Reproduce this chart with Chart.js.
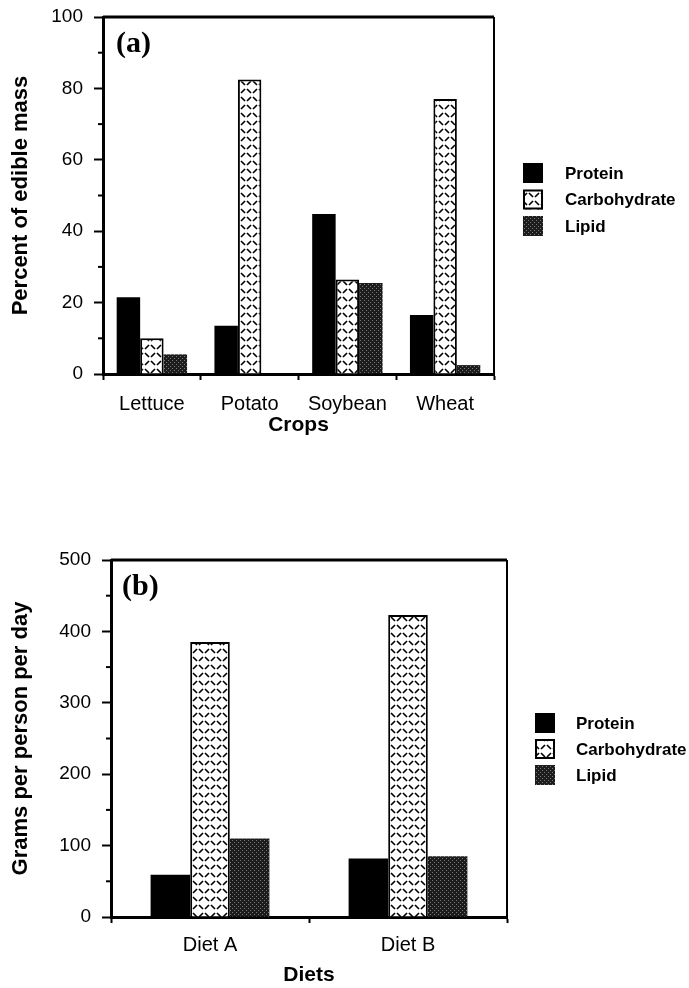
<!DOCTYPE html>
<html>
<head>
<meta charset="utf-8">
<script src="https://cdn.jsdelivr.net/npm/chart.js@4.4.1/dist/chart.umd.min.js"></script>
<style>
	body { margin: 0; background: #fff; width: 689px; height: 988px; position: relative; overflow: hidden; }
	canvas { position: absolute; left: 0; }
	#cropsChart { top: 0; }
	#dietsChart { top: 480px; }
</style>
</head>
<body>
<canvas id="cropsChart" width="689" height="450"></canvas>
<canvas id="dietsChart" width="689" height="508"></canvas>
<script>
const seriesNames = ['Protein', 'Carbohydrate', 'Lipid'];

// (a) percent of edible mass
const crops = ['Lettuce', 'Potato', 'Soybean', 'Wheat'];
const cropProtein = [21.5, 13.5, 44.8, 16.5];
const cropCarbohydrate = [10, 82.5, 26.5, 77];
const cropLipid = [5.5, 0, 25.5, 2.5];
const cropTicks = [0, 20, 40, 60, 80, 100];
const cropMinorTicks = [10, 30, 50, 70, 90];

// (b) grams per person per day
const diets = ['Diet A', 'Diet B'];
const dietProtein = [59, 82];
const dietCarbohydrate = [385, 423];
const dietLipid = [110, 85];
const dietTicks = [0, 100, 200, 300, 400, 500];
const dietMinorTicks = [50, 150, 250, 350, 450];

const SANS = '"Liberation Sans", Arial, Helvetica, sans-serif';
const SERIF = '"Liberation Serif", "Times New Roman", serif';

const makeCarbPattern = () => {
	let c = document.createElement('canvas');
	c.width = 12;
	c.height = 16;
	let p = c.getContext('2d');
	p.fillStyle = '#fff';
	p.fillRect(0, 0, 12, 16);
	p.strokeStyle = '#000';
	p.lineWidth = 1.7;
	p.beginPath();
	p.moveTo(1, 1); p.lineTo(5, 5);
	p.moveTo(7, 5); p.lineTo(11, 1);
	p.moveTo(1, 13); p.lineTo(5, 9);
	p.moveTo(7, 9); p.lineTo(11, 13);
	p.stroke();
	return p.createPattern(c, 'repeat');
};

const makeLipidPattern = () => {
	let c = document.createElement('canvas');
	c.width = 4;
	c.height = 4;
	let p = c.getContext('2d');
	p.fillStyle = '#1c1c1c';
	p.fillRect(0, 0, 4, 4);
	p.fillStyle = '#7a7a7a';
	p.fillRect(0, 0, 1, 1);
	p.fillRect(2, 2, 1, 1);
	return p.createPattern(c, 'repeat');
};

const carbPattern = makeCarbPattern();
const lipidPattern = makeLipidPattern();

// frame, minor ticks, panel letter and legend
const extras = {
	id: 'extras',
	afterDraw(chart, args, opts) {
		const { ctx, chartArea: a, scales: { y } } = chart;
		ctx.save();
		ctx.strokeStyle = '#000';
		ctx.lineWidth = 3;
		ctx.beginPath();
		ctx.moveTo(a.left, a.top);
		ctx.lineTo(a.right, a.top);
		ctx.stroke();
		ctx.lineWidth = 2;
		ctx.beginPath();
		ctx.moveTo(a.right, a.top);
		ctx.lineTo(a.right, a.bottom);
		ctx.stroke();

		opts.minor.forEach((v) => {
			let py = y.getPixelForValue(v);
			ctx.beginPath();
			ctx.moveTo(a.left - 5, py);
			ctx.lineTo(a.left, py);
			ctx.stroke();
		});

		ctx.fillStyle = '#000';
		ctx.textBaseline = 'middle';
		ctx.textAlign = 'left';
		ctx.font = 'bold 30px ' + SERIF;
		ctx.fillText(opts.panel, a.left + opts.panelX, a.top + opts.panelY);

		ctx.font = 'bold 17px ' + SANS;
		chart.data.datasets.forEach((ds, i) => {
			let ly = opts.legendY + i * opts.legendGap;
			ctx.fillStyle = ds.backgroundColor;
			ctx.fillRect(opts.legendX, ly, 20, 20);
			if (ds.borderWidth) {
				ctx.lineWidth = 2;
				ctx.strokeRect(opts.legendX + 1, ly + 1, 18, 18);
			}
			ctx.fillStyle = '#000';
			ctx.fillText(ds.label, opts.textX, ly + 11);
		});
		ctx.restore();
	}
};

const makeChart = (id, cfg) => {
	let ctx = document.getElementById(id).getContext('2d');
	return new Chart(ctx, {
		type: 'bar',
		data: {
			labels: cfg.labels,
			datasets: [
				{ label: seriesNames[0], data: cfg.protein, backgroundColor: '#000', borderWidth: 0 },
				{ label: seriesNames[1], data: cfg.carb, backgroundColor: carbPattern, borderColor: '#000', borderWidth: 2 },
				{ label: seriesNames[2], data: cfg.lipid, backgroundColor: lipidPattern, borderWidth: 0 }
			]
		},
		options: {
			responsive: false,
			animation: false,
			devicePixelRatio: 1,
			barPercentage: 1,
			categoryPercentage: cfg.groupWidth,
			layout: { padding: { top: cfg.top, right: cfg.right, left: 0, bottom: 0 } },
			scales: {
				x: {
					afterFit: (s) => { s.height = cfg.xHeight; s.paddingLeft = 0; s.paddingRight = 0; },
					grid: { drawOnChartArea: false, offset: true, tickLength: 6, tickWidth: 2, tickColor: '#000' },
					border: { display: true, width: 3, color: '#000' },
					ticks: { color: '#000', font: { family: SANS, size: 20 }, padding: cfg.xTickPad, maxRotation: 0 },
					title: { display: true, text: cfg.xTitle, color: '#000', font: { family: SANS, size: 21, weight: 'bold' }, padding: { top: 0, bottom: cfg.xTitlePad } }
				},
				y: {
					min: cfg.ticks[0],
					max: cfg.ticks[cfg.ticks.length - 1],
					afterFit: (s) => { s.width = cfg.yWidth; s.paddingTop = 0; s.paddingBottom = 0; },
					afterBuildTicks: (s) => { s.ticks = cfg.ticks.map((v) => ({ value: v })); },
					grid: { drawOnChartArea: false, tickLength: 9, tickWidth: 2, tickColor: '#000' },
					border: { display: true, width: 3, color: '#000' },
					ticks: { color: '#000', font: { family: SANS, size: 19 }, padding: 11 },
					title: { display: true, text: cfg.yTitle, color: '#000', font: { family: SANS, size: 22, weight: 'bold' }, padding: { top: 8, bottom: 0 } }
				}
			},
			plugins: {
				legend: { display: false },
				tooltip: { enabled: false },
				extras: cfg.extras
			}
		},
		plugins: [extras]
	});
};

makeChart('cropsChart', {
	labels: crops,
	protein: cropProtein,
	carb: cropCarbohydrate,
	lipid: cropLipid,
	ticks: cropTicks,
	groupWidth: 0.72,
	top: 17,
	right: 195,
	xHeight: 76,
	yWidth: 103,
	xTickPad: 12,
	xTitlePad: 12,
	xTitle: 'Crops',
	yTitle: 'Percent of edible mass',
	extras: { minor: cropMinorTicks, panel: '(a)', panelX: 13, panelY: 27, legendX: 523, legendY: 163, legendGap: 26.5, textX: 565 }
});

makeChart('dietsChart', {
	labels: diets,
	protein: dietProtein,
	carb: dietCarbohydrate,
	lipid: dietLipid,
	ticks: dietTicks,
	groupWidth: 0.6,
	top: 80,
	right: 182,
	xHeight: 71,
	yWidth: 111,
	xTickPad: 10,
	xTitlePad: 0,
	xTitle: 'Diets',
	yTitle: 'Grams per person per day',
	extras: { minor: dietMinorTicks, panel: '(b)', panelX: 11, panelY: 27, legendX: 535, legendY: 233, legendGap: 26, textX: 576 }
});
</script>
</body>
</html>
